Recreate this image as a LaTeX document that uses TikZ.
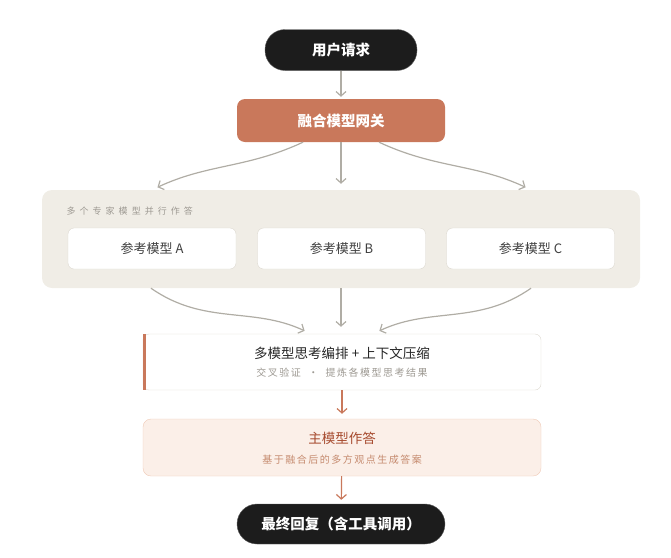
\documentclass[tikz,border=0pt]{standalone}
\usepackage{fontspec}
\setmainfont{Noto Sans CJK SC}
\usetikzlibrary{arrows.meta}
\definecolor{ink}{HTML}{1C1C1C}
\definecolor{clay}{HTML}{C9785B}
\definecolor{sand}{HTML}{F0EDE6}
\definecolor{edge}{HTML}{DCD8CF}
\definecolor{wire}{HTML}{B0ADA5}
\definecolor{mute}{HTML}{9E9A93}
\definecolor{blush}{HTML}{FBEFE8}
\definecolor{blushedge}{HTML}{EFC9B5}
\definecolor{rust}{HTML}{A64A2E}
\definecolor{rustlight}{HTML}{C58A6E}
\begin{document}
\begin{tikzpicture}[x=1pt,y=-1pt,
        pill/.style={draw=ink!70, fill=ink, rounded corners=20pt, text=white,
            font=\fontsize{14.5}{16}\selectfont\bfseries, minimum height=41pt},
        gatebox/.style={fill=clay, rounded corners=8pt, text=white,
            font=\fontsize{14.5}{16}\selectfont\bfseries, minimum height=43pt},
        modelbox/.style={draw=edge, fill=white, rounded corners=6pt, text=black!75,
            font=\fontsize{13}{15}\selectfont, minimum width=168pt, minimum height=41pt},
        card/.style={draw=edge, fill=white, rounded corners=6pt},
        flow/.style={draw=wire, line width=1.2pt, -{Straight Barb[length=4.5pt,width=10pt]}},
        hotflow/.style={draw=clay, line width=1.2pt, -{Straight Barb[length=4.5pt,width=10pt]}},
        title/.style={font=\fontsize{13.5}{15}\selectfont},
        subtitle/.style={font=\fontsize{10}{12}\selectfont\addfontfeature{LetterSpace=15}}]
        \useasboundingbox (0,0) rectangle (671,557);

        % top
        \node[pill, minimum width=152pt] (req) at (341,50) {用户请求};
        \node[gatebox, minimum width=208pt] (gw) at (341,120.5) {融合模型网关};

        % expert group
        \node[fill=sand, rounded corners=10pt, minimum width=598pt, minimum height=98pt] (grp) at (341,239) {};
        \node[anchor=west, text=mute, font=\fontsize{9}{11}\selectfont\addfontfeature{LetterSpace=45}] (grplbl) at (63,211) {多个专家模型并行作答};
        \node[modelbox] (ma) at (152,248.5) {参考模型 A};
        \node[modelbox] (mb) at (341.5,248.5) {参考模型 B};
        \node[modelbox] (mc) at (530.5,248.5) {参考模型 C};

        % orchestration
        \node[card, minimum width=398pt, minimum height=56pt] (orch) at (342,362) {};
        \fill[clay] (orch.north west) rectangle ([xshift=3.5pt]orch.south west);
        \node[title, text=black!85] (orchttl) at (342,353) {多模型思考编排 + 上下文压缩};
        \node[subtitle, text=mute] (orchsub) at (342,373) {交叉验证 \ · \ 提炼各模型思考结果};

        % main model
        \node[draw=blushedge, fill=blush, rounded corners=8pt, minimum width=398pt, minimum height=57pt] (main) at (342,447.5) {};
        \node[title, text=rust] (mainttl) at (342,438) {主模型作答};
        \node[subtitle, text=rustlight] (mainsub) at (342,460) {基于融合后的多方观点生成答案};

        \node[pill, minimum width=208pt, minimum height=40pt] (final) at (341,524) {最终回复（含工具调用）};

        % connectors
        \draw[flow, shorten >=2pt] (req) -- (gw);
        \draw[flow, shorten >=6pt] ([xshift=-38pt]gw.south) to[out=205,in=25] ([xshift=-189pt]grp.north);
        \draw[flow, shorten >=6pt] (gw.south) -- (grp.north);
        \draw[flow, shorten >=6pt] ([xshift=38pt]gw.south) to[out=-25,in=155] ([xshift=190pt]grp.north);

        \draw[flow, shorten >=7pt] ([xshift=-190pt]grp.south) to[out=-35,in=155] ([xshift=-31pt]orch.north);
        \draw[flow, shorten >=7pt] (grp.south) -- ([xshift=-1pt]orch.north);
        \draw[flow, shorten >=7pt] ([xshift=190pt]grp.south) to[out=215,in=25] ([xshift=31pt]orch.north);

        \draw[hotflow, shorten >=5pt] (orch) -- (main);
        \draw[hotflow, shorten >=4pt] (main) -- (final);
\end{tikzpicture}
\end{document}
